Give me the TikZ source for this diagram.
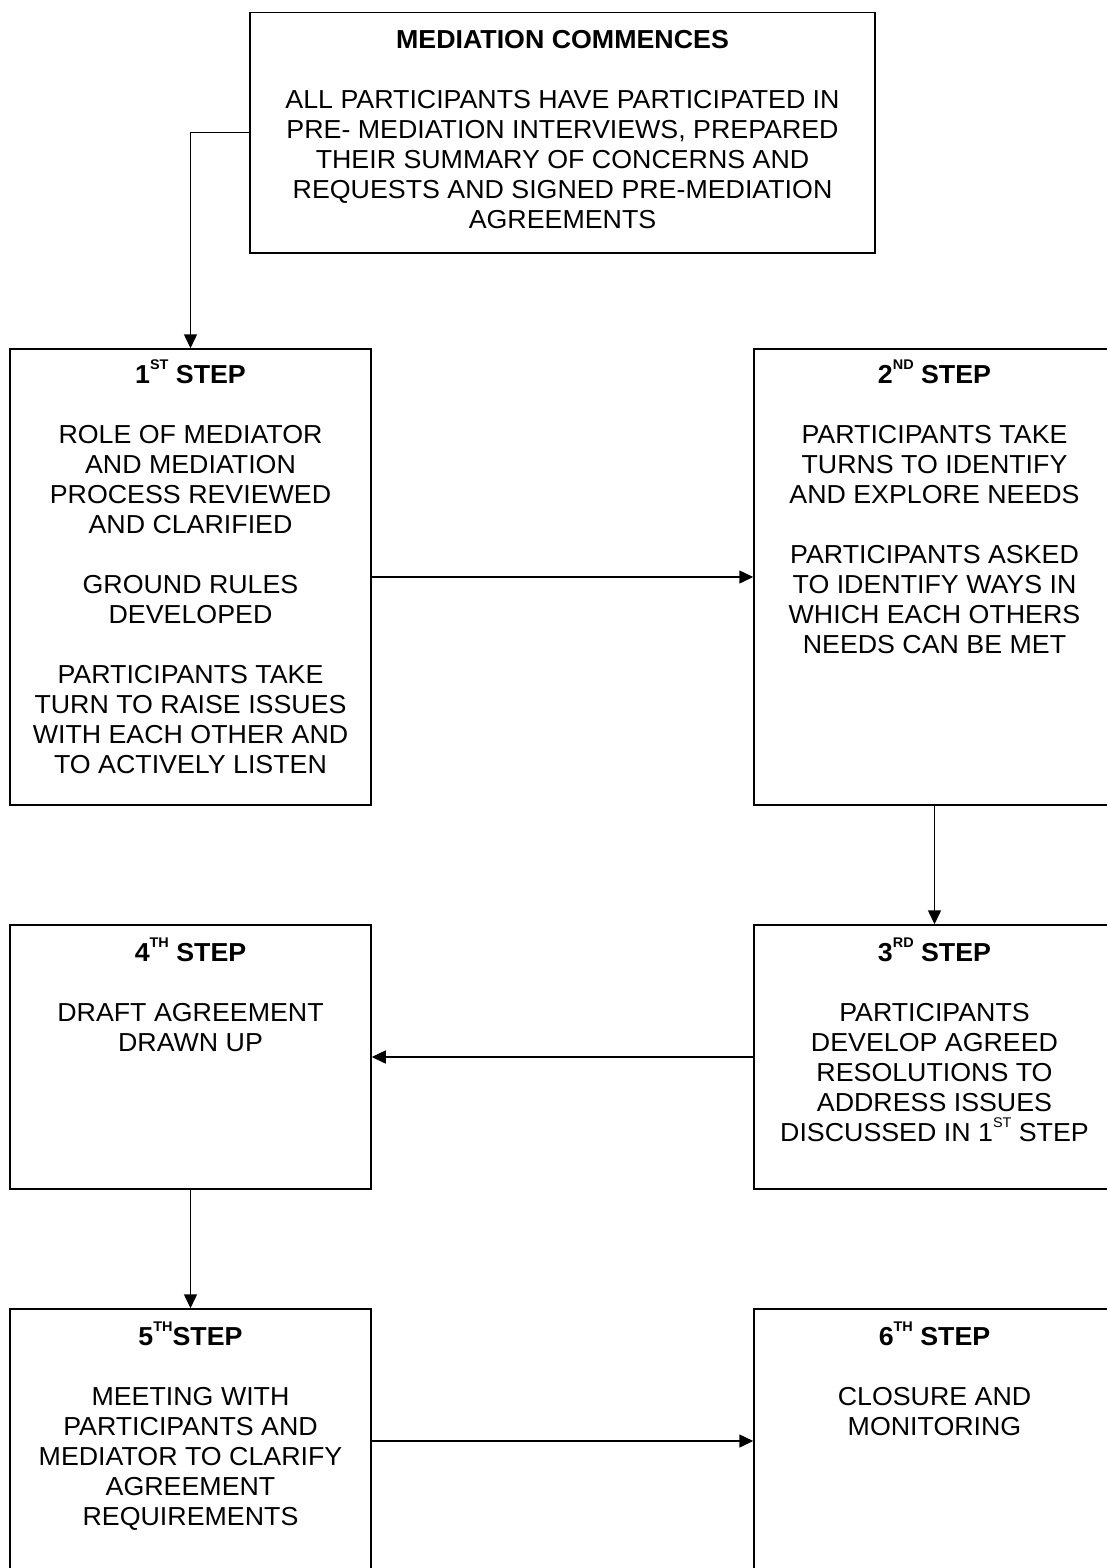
\documentclass[tikz,border=0pt]{standalone}
\usepackage{fontspec}
\setmainfont[FakeStretch=1.03]{Liberation Sans}
\usepackage{tikz}
\usetikzlibrary{positioning, arrows.meta}

% superscript ordinal
\newcommand{\ord}[1]{\raisebox{14pt}{\fontsize{14}{14}\selectfont #1}}
% bold heading line of each box
\newcommand{\boxhead}[1]{\rule{0pt}{25pt}\textbf{#1}}

\tikzset{
  stepbox/.style={draw, line width=1.5pt, minimum width=361pt, inner sep=0pt},
  txt/.style={align=center, inner sep=0pt, font=\fontsize{26}{30}\selectfont},
  arr/.style={line width=1.5pt, -{Triangle[length=14pt,width=13pt]}}
}

\begin{document}
\begin{tikzpicture}[x=1pt, y=-1pt]
    \useasboundingbox (0,0) rectangle (1106,1568);

    % Boxes
    \node[stepbox, minimum width=625pt, minimum height=240pt] (start) at (562.5,132.75) {};
    \node[stepbox, minimum height=456pt] (s1) at (190.5,577) {};
    \node[stepbox, minimum height=456pt] (s2) at (934.5,577) {};
    \node[stepbox, minimum height=264pt] (s3) at (934.5,1057) {};
    \node[stepbox, minimum height=264pt] (s4) at (190.5,1057) {};
    \node[stepbox, minimum height=264pt] (s5) at (190.5,1441) {};
    \node[stepbox, minimum height=264pt] (s6) at (934.5,1441) {};

    % Texts
    \node[txt, below=11pt of start.north] (startt) {\boxhead{MEDIATION COMMENCES}\\[30pt]
      ALL PARTICIPANTS HAVE PARTICIPATED IN\\
      PRE- MEDIATION INTERVIEWS, PREPARED\\
      THEIR SUMMARY OF CONCERNS AND\\
      REQUESTS AND SIGNED PRE-MEDIATION\\
      AGREEMENTS};
    \node[txt, below=10pt of s1.north] (s1t) {\boxhead{1\ord{ST} STEP}\\[30pt]
      ROLE OF MEDIATOR\\ AND MEDIATION\\ PROCESS REVIEWED\\ AND CLARIFIED\\[30pt]
      GROUND RULES\\ DEVELOPED\\[30pt]
      PARTICIPANTS TAKE\\ TURN TO RAISE ISSUES\\ WITH EACH OTHER AND\\ TO ACTIVELY LISTEN};
    \node[txt, below=10pt of s2.north] (s2t) {\boxhead{2\ord{ND} STEP}\\[30pt]
      PARTICIPANTS TAKE\\ TURNS TO IDENTIFY\\ AND EXPLORE NEEDS\\[30pt]
      PARTICIPANTS ASKED\\ TO IDENTIFY WAYS IN\\ WHICH EACH OTHERS\\ NEEDS CAN BE MET};
    \node[txt, below=12pt of s3.north] (s3t) {\boxhead{3\ord{RD} STEP}\\[30pt]
      PARTICIPANTS\\ DEVELOP AGREED\\ RESOLUTIONS TO\\ ADDRESS ISSUES\\ DISCUSSED IN 1\ord{ST} STEP};
    \node[txt, below=12pt of s4.north] (s4t) {\boxhead{4\ord{TH} STEP}\\[30pt]
      DRAFT AGREEMENT\\ DRAWN UP};
    \node[txt, below=12pt of s5.north] (s5t) {\boxhead{5\ord{TH}STEP}\\[30pt]
      MEETING WITH\\ PARTICIPANTS AND\\ MEDIATOR TO CLARIFY\\ AGREEMENT\\ REQUIREMENTS};
    \node[txt, below=12pt of s6.north] (s6t) {\boxhead{6\ord{TH} STEP}\\[30pt]
      CLOSURE AND\\ MONITORING};

    % Connectors
    \draw[arr] (start.west) -| (s1.north);
    \draw[arr] (s1.east) -- (s2.west);
    \draw[arr] (s2.south) -- (s3.north);
    \draw[arr] (s3.west) -- (s4.east);
    \draw[arr] (s4.south) -- (s5.north);
    \draw[arr] (s5.east) -- (s6.west);
\end{tikzpicture}
\end{document}
